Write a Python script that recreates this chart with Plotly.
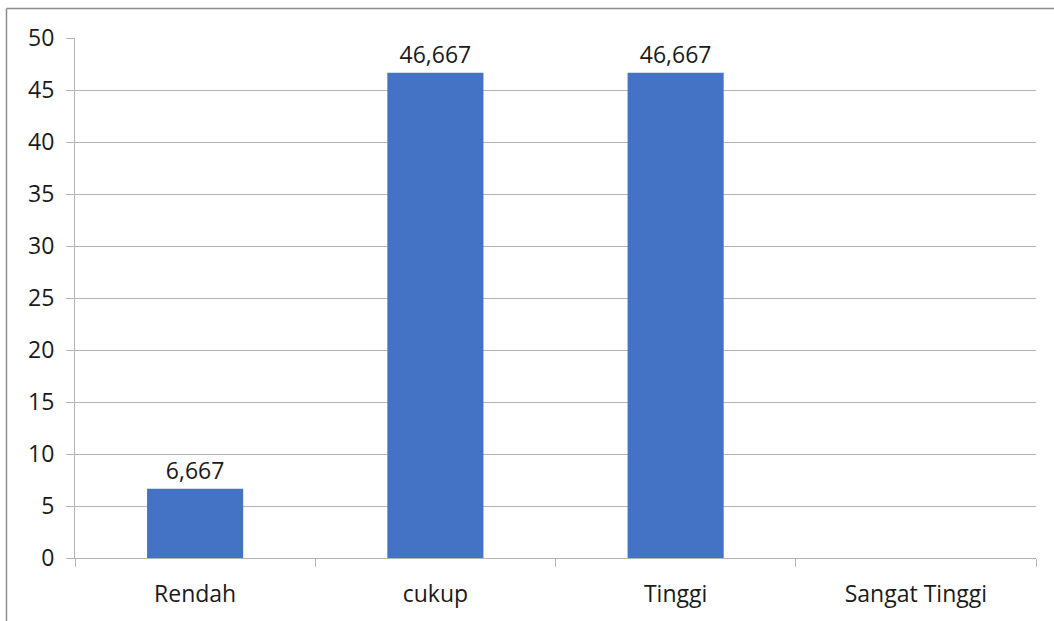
import plotly.graph_objects as go

categories = ["Rendah", "cukup", "Tinggi", "Sangat Tinggi"]
values = [6.667, 46.667, 46.667, 0]
y_ticks = [0, 5, 10, 15, 20, 25, 30, 35, 40, 45, 50]

labels = [f"{v:.3f}".replace(".", ",") if v > 0 else "" for v in values]

FONT = "'Open Sans', sans-serif"
GRID = "#b4b4b4"
TEXT = "#1a1a1a"

fig = go.Figure(
    go.Bar(
        x=categories,
        y=values,
        text=labels,
        textposition="outside",
        cliponaxis=False,
        textfont=dict(family=FONT, size=23, color=TEXT),
        marker=dict(color="#4472C4", line=dict(width=0)),
        width=0.4,
    )
)

fig.update_layout(
    width=1054,
    height=621,
    margin=dict(l=75, r=18, t=38, b=61),
    paper_bgcolor="white",
    plot_bgcolor="white",
    showlegend=False,
    font=dict(family=FONT, size=23, color=TEXT),
    shapes=[
        # outer chart frame (left and top edges)
        dict(type="line", xref="paper", yref="paper",
             x0=-0.0713, x1=-0.0713, y0=1.0565, y1=-0.3,
             line=dict(color="#8c8c8c", width=1.5)),
        dict(type="line", xref="paper", yref="paper",
             x0=-0.0713, x1=1.1, y0=1.0565, y1=1.0565,
             line=dict(color="#8c8c8c", width=1.5)),
    ],
)

fig.update_xaxes(
    type="category",
    range=[-0.5, 3.5],
    showline=True,
    linecolor=GRID,
    linewidth=1,
    ticks="outside",
    tickson="boundaries",
    ticklen=8,
    tickcolor=GRID,
    ticklabelstandoff=15,
    showgrid=False,
    tickfont=dict(family=FONT, size=23, color=TEXT),
)

fig.update_yaxes(
    range=[0, 50],
    tickvals=y_ticks,
    showline=True,
    linecolor=GRID,
    linewidth=1,
    ticks="outside",
    ticklen=8,
    tickcolor=GRID,
    ticklabelstandoff=7,
    showgrid=True,
    gridcolor=GRID,
    gridwidth=1,
    zeroline=False,
    tickfont=dict(family=FONT, size=23, color=TEXT),
)

fig.write_html("out.html")
